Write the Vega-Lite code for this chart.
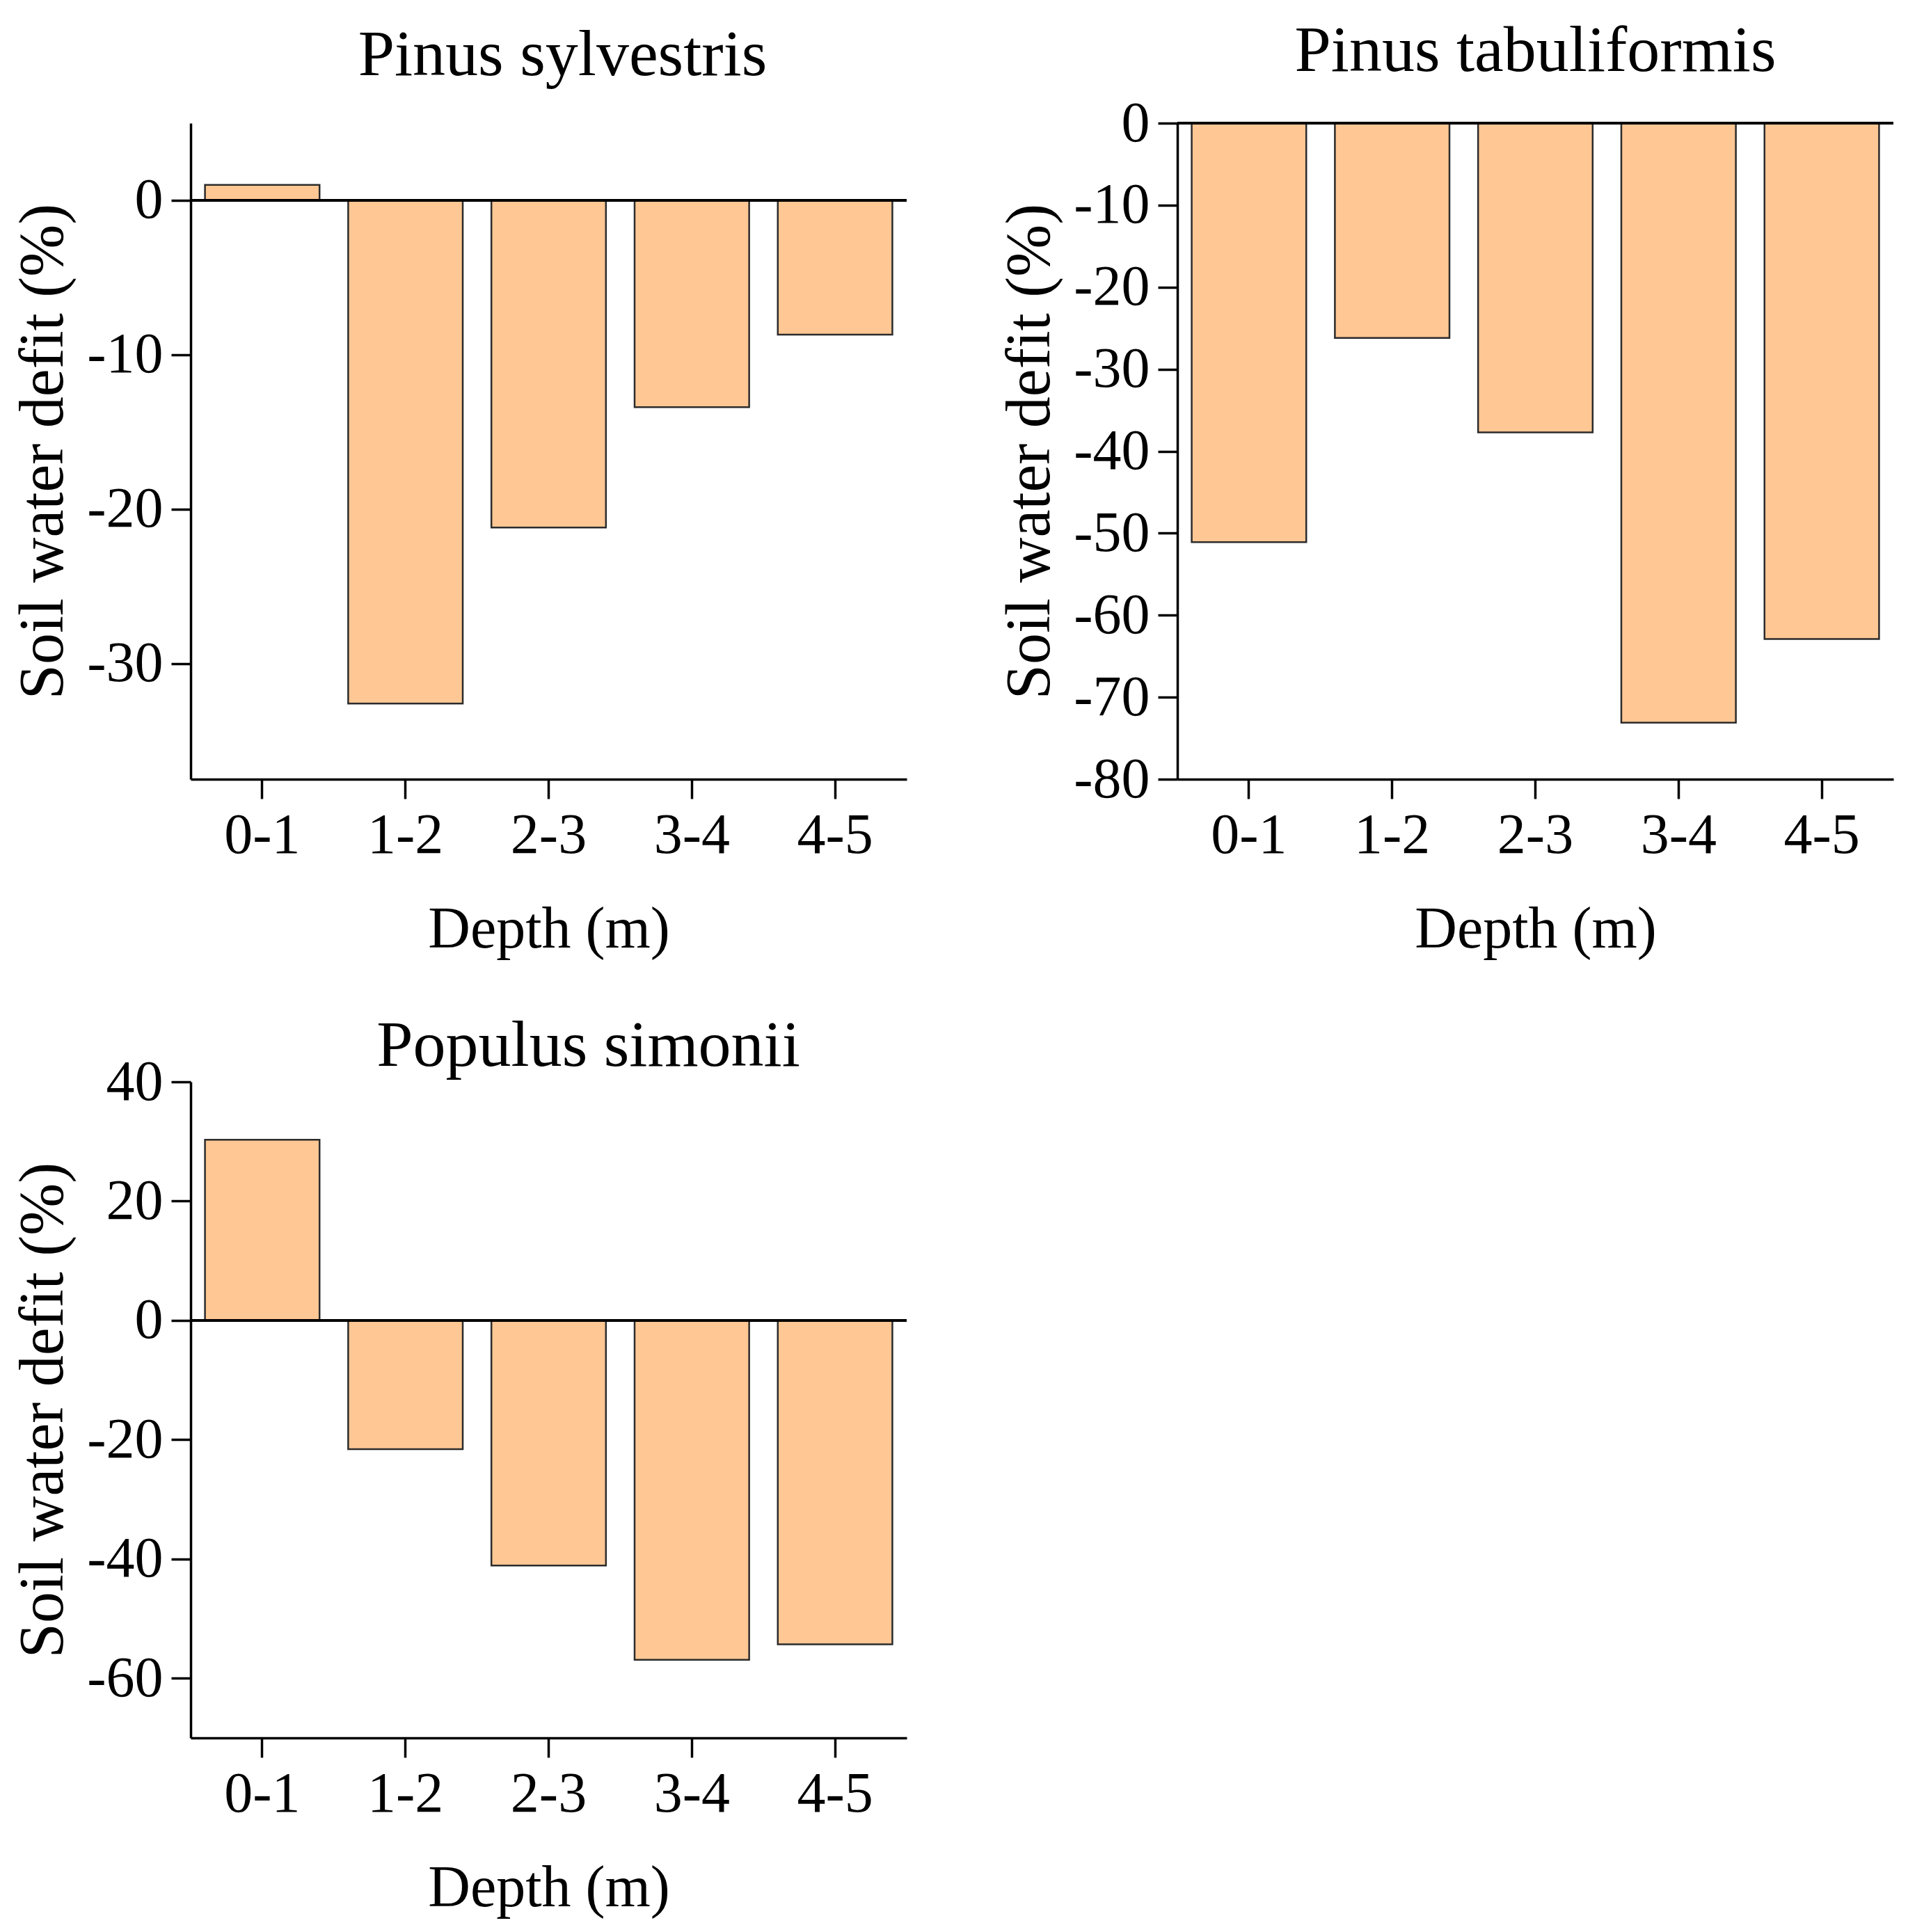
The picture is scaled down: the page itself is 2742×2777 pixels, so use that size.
{
  "$schema": "https://vega.github.io/schema/vega-lite/v6.json",
  "background": "white",
  "padding": {"left": 17, "top": 27, "right": 5, "bottom": 5},
  "config": {
    "font": "Liberation Serif",
    "view": {"stroke": null},
    "axis": {
      "grid": false,
      "domainColor": "black",
      "domainWidth": 3.5,
      "tickColor": "black",
      "tickWidth": 3.5,
      "tickSize": 28,
      "labelColor": "black",
      "labelFont": "Liberation Serif",
      "labelFontSize": 82,
      "titleColor": "black",
      "titleFont": "Liberation Serif",
      "titleFontWeight": "normal",
      "labelPadding": 12
    },
    "axisX": {"titleFontSize": 84, "titlePadding": 54, "labelAngle": 0},
    "axisY": {"titleFontSize": 90, "titlePadding": 16, "labelExpr": "datum.value < 0 ? '-' + abs(datum.value) : '' + datum.value"},
    "title": {"font": "Liberation Serif", "fontSize": 94, "fontWeight": "normal", "color": "black", "baseline": "alphabetic", "frame": "group", "anchor": "middle"}
  },
  "columns": 2,
  "spacing": {"column": 130, "row": 79},
  "concat": [
    {
      "width": 1029,
      "height": 943,
      "title": {"text": "Pinus sylvestris", "offset": 49, "dx": 20},
      "data": {"values": [
        {"depth": "0-1", "value": 1.0},
        {"depth": "1-2", "value": -32.6},
        {"depth": "2-3", "value": -21.2},
        {"depth": "3-4", "value": -13.4},
        {"depth": "4-5", "value": -8.7}
      ]},
      "layer": [
        {
          "mark": {"type": "bar", "fill": "#FEC794", "stroke": "#2b2b2b", "strokeWidth": 2.5},
          "encoding": {
            "x": {"field": "depth", "type": "nominal", "sort": null, "title": "Depth (m)",
                  "scale": {"paddingInner": 0.2, "paddingOuter": 0.1}},
            "y": {"field": "value", "type": "quantitative", "title": "Soil water defit (%)",
                  "scale": {"domain": [-37.5, 5], "nice": false, "zero": false},
                  "axis": {"values": [-30, -20, -10, 0]}}
          }
        },
        {
          "mark": {"type": "rule", "color": "black", "strokeWidth": 3.5},
          "encoding": {"y": {"datum": 0, "type": "quantitative"}}
        }
      ]
    },
    {
      "width": 1029,
      "height": 943,
      "title": {"text": "Pinus tabuliformis", "offset": 14},
      "data": {"values": [
        {"depth": "0-1", "value": -51.1},
        {"depth": "1-2", "value": -26.2},
        {"depth": "2-3", "value": -37.7},
        {"depth": "3-4", "value": -73.1},
        {"depth": "4-5", "value": -62.9}
      ]},
      "layer": [
        {
          "mark": {"type": "bar", "fill": "#FEC794", "stroke": "#2b2b2b", "strokeWidth": 2.5},
          "encoding": {
            "x": {"field": "depth", "type": "nominal", "sort": null, "title": "Depth (m)",
                  "scale": {"paddingInner": 0.2, "paddingOuter": 0.1}},
            "y": {"field": "value", "type": "quantitative", "title": "Soil water defit (%)",
                  "scale": {"domain": [-80, 0], "nice": false, "zero": false},
                  "axis": {"values": [-80, -70, -60, -50, -40, -30, -20, -10, 0]}}
          }
        },
        {
          "mark": {"type": "rule", "color": "black", "strokeWidth": 3.5},
          "encoding": {"y": {"datum": 0, "type": "quantitative"}}
        }
      ]
    },
    {
      "width": 1029,
      "height": 943,
      "title": {"text": "Populus simonii", "offset": -38, "dx": 57},
      "data": {"values": [
        {"depth": "0-1", "value": 30.3},
        {"depth": "1-2", "value": -21.6},
        {"depth": "2-3", "value": -41.1},
        {"depth": "3-4", "value": -56.9},
        {"depth": "4-5", "value": -54.3}
      ]},
      "layer": [
        {
          "mark": {"type": "bar", "fill": "#FEC794", "stroke": "#2b2b2b", "strokeWidth": 2.5},
          "encoding": {
            "x": {"field": "depth", "type": "nominal", "sort": null, "title": "Depth (m)",
                  "scale": {"paddingInner": 0.2, "paddingOuter": 0.1}},
            "y": {"field": "value", "type": "quantitative", "title": "Soil water defit (%)",
                  "scale": {"domain": [-70, 40], "nice": false, "zero": false},
                  "axis": {"values": [-60, -40, -20, 0, 20, 40]}}
          }
        },
        {
          "mark": {"type": "rule", "color": "black", "strokeWidth": 3.5},
          "encoding": {"y": {"datum": 0, "type": "quantitative"}}
        }
      ]
    }
  ]
}
